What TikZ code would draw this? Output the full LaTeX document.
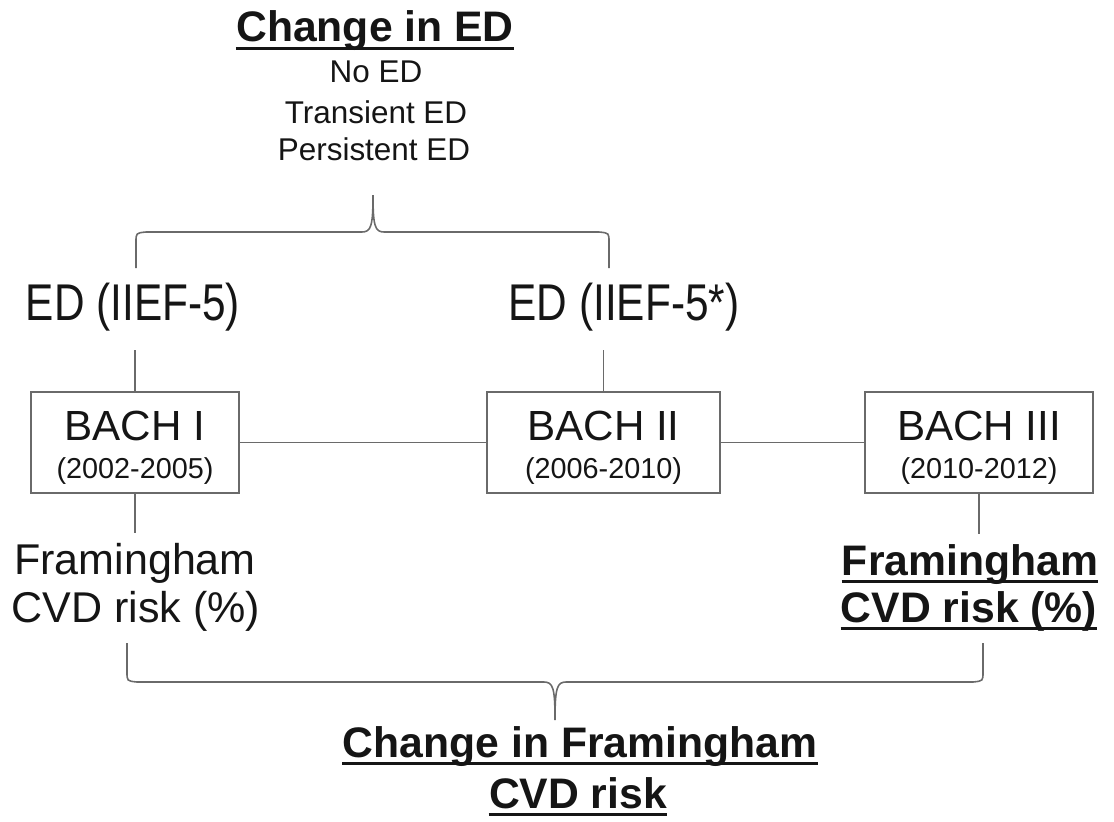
\documentclass[tikz,border=0pt]{standalone}
\usepackage{fontspec}
\setmainfont{Liberation Sans}
\newfontfamily\narrowfont[FakeStretch=0.82]{Liberation Sans}
\definecolor{linegray}{HTML}{6A6A6A}
\definecolor{ink}{HTML}{151515}
\begin{document}
\begin{tikzpicture}[x=0.02cm,y=-0.02cm,
  every node/.style={inner sep=0pt,text=ink},
  heading/.style={anchor=base,font=\fontsize{24.3}{29}\selectfont\bfseries},
  option/.style={anchor=base,font=\fontsize{17.9}{21}\selectfont},
  measure/.style={anchor=base,font=\narrowfont\fontsize{29.4}{35}\selectfont,outer ysep=0.38cm},
  wave/.style={draw=linegray,line width=0.9pt,minimum height=2.02cm},
  wavename/.style={anchor=base,font=\fontsize{24}{29}\selectfont},
  years/.style={anchor=base,font=\fontsize{16.4}{20}\selectfont},
  risk/.style={anchor=base,font=\fontsize{24.5}{29}\selectfont,outer ysep=0.2cm},
  riskbold/.style={risk,font=\fontsize{24.3}{29}\selectfont\bfseries},
  conn/.style={draw=linegray,line width=0.9pt},
  uline/.style={draw=ink,line width=1.6pt}]
\useasboundingbox (0,0) rectangle (1114,821);

\node[heading] (ced) at (375,42) {Change in ED};
\draw[uline] ([yshift=-3.6pt]ced.base west) -- ([yshift=-3.6pt]ced.base east);
\node[option] (noed) at (376,83) {No ED};
\node[option] (tred) at (376,123) {Transient ED};
\node[option] (pred) at (374,160) {Persistent ED};

\coordinate (tl) at (136,268);
\coordinate (tt) at (373,195);
\coordinate (tr) at (609,268);
\draw[conn] (tl) -- (136,242) .. controls (136,233) .. (146,232) -- (362,232)
  .. controls (371,232) and (373,226) .. (tt)
  .. controls (373,226) and (375,232) .. (384,232) -- (599,232)
  .. controls (609,233) .. (609,242) -- (tr);

\node[measure] (ed1) at (133,320) {ED (IIEF-5)};
\node[measure] (ed2) at (624,320) {ED (IIEF-5*)};

\node[wave,minimum width=4.16cm] (b1) at (135,442.5) {};
\node[wavename] (b1n) at (135,440) {BACH I};
\node[years] (b1y) at (135,478) {(2002-2005)};
\node[wave,minimum width=4.66cm] (b2) at (603.5,442.5) {};
\node[wavename] (b2n) at (603.5,440) {BACH II};
\node[years] (b2y) at (603.5,478) {(2006-2010)};
\node[wave,minimum width=4.56cm] (b3) at (979,442.5) {};
\node[wavename] (b3n) at (979,440) {BACH III};
\node[years] (b3y) at (979,478) {(2010-2012)};

\draw[conn] (b1.east) -- (b2.west);
\draw[conn] (b2.east) -- (b3.west);
\draw[conn] (b1.north) -- (b1.north |- ed1.south);
\draw[conn] (b2.north) -- (b2.north |- ed2.south);

\node[risk] (fr1) at (135,574) {Framingham};
\node[risk] (cv1) at (136,622) {CVD risk (\%)};
\node[riskbold] (fr3) at (970,575) {Framingham};
\draw[uline] ([yshift=-3.6pt]fr3.base west) -- ([yshift=-3.6pt]fr3.base east);
\node[riskbold] (cv3) at (969,622) {CVD risk (\%)};
\draw[uline] ([yshift=-3.6pt]cv3.base west) -- ([yshift=-3.6pt]cv3.base east);
\draw[conn] (b1.south) -- (b1.south |- fr1.north);
\draw[conn] (b3.south) -- (b3.south |- fr3.north);

\coordinate (bl) at (127,643);
\coordinate (bt) at (555,720);
\coordinate (br) at (983,643);
\draw[conn] (bl) -- (127,672) .. controls (127,681) .. (137,682) -- (544,682)
  .. controls (553,682) and (555,688) .. (bt)
  .. controls (555,688) and (557,682) .. (566,682) -- (973,682)
  .. controls (983,681) .. (983,672) -- (br);

\node[heading] (cfr) at (580,757) {Change in Framingham};
\draw[uline] ([yshift=-3.6pt]cfr.base west) -- ([yshift=-3.6pt]cfr.base east);
\node[heading] (ccv) at (578,808) {CVD risk};
\draw[uline] ([yshift=-3.6pt]ccv.base west) -- ([yshift=-3.6pt]ccv.base east);
\end{tikzpicture}
\end{document}
